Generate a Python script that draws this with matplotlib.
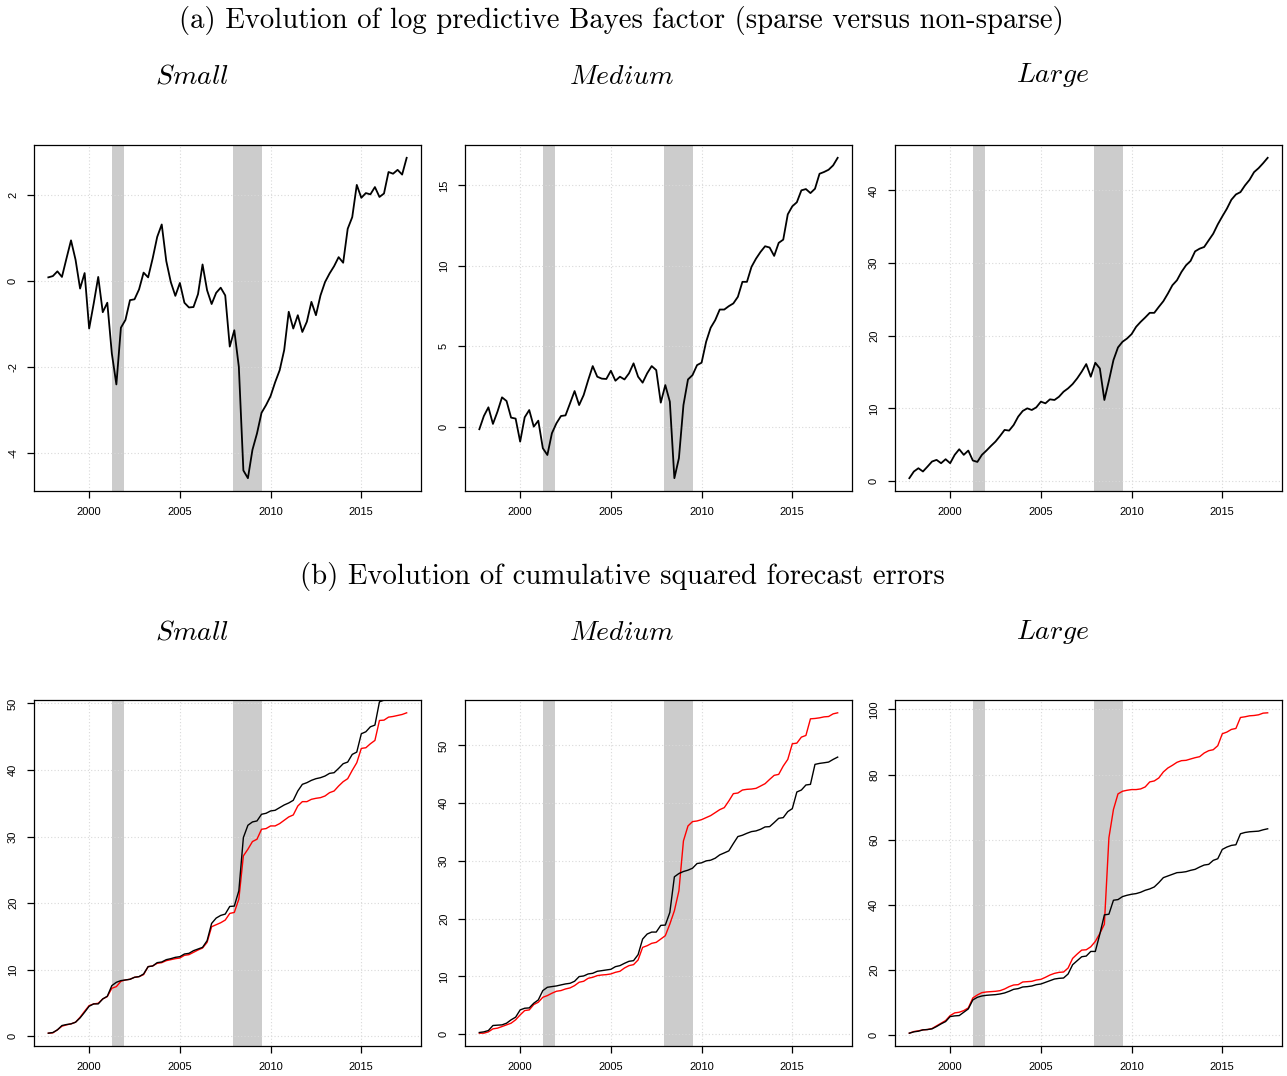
import matplotlib
matplotlib.use("Agg")
import matplotlib.pyplot as plt

plt.rcParams["axes.unicode_minus"] = False
plt.rcParams["mathtext.fontset"] = "cm"
plt.rcParams["font.family"] = ["Liberation Sans", "DejaVu Sans"]

# quarterly evaluation sample, 1997Q4 - 2017Q3
dates = [1997.75 + 0.25 * i for i in range(80)]
recessions = [(2001.25, 2001.917), (2007.917, 2009.5)]

# log predictive Bayes factor, sparse vs non-sparse
lbf_small = [0.09, 0.12, 0.23, 0.10, 0.53, 0.95, 0.50, -0.17, 0.19, -1.10,
             -0.52, 0.10, -0.72, -0.50, -1.68, -2.40, -1.08, -0.90, -0.44, -0.42,
             -0.19, 0.20, 0.09, 0.53, 1.03, 1.32, 0.47, -0.02, -0.34, -0.04,
             -0.50, -0.61, -0.60, -0.30, 0.39, -0.21, -0.53, -0.27, -0.15, -0.33,
             -1.52, -1.14, -1.99, -4.40, -4.58, -3.92, -3.54, -3.06, -2.88, -2.67,
             -2.35, -2.07, -1.60, -0.71, -1.10, -0.79, -1.18, -0.94, -0.48, -0.79,
             -0.33, -0.02, 0.18, 0.35, 0.56, 0.43, 1.22, 1.49, 2.24, 1.94,
             2.05, 2.02, 2.19, 1.96, 2.04, 2.54, 2.50, 2.59, 2.48, 2.87]
lbf_medium = [-0.14, 0.68, 1.22, 0.19, 0.95, 1.84, 1.61, 0.58, 0.52, -0.91,
              0.60, 1.05, 0.02, 0.39, -1.32, -1.74, -0.39, 0.23, 0.68, 0.72,
              1.47, 2.23, 1.36, 1.98, 2.91, 3.78, 3.12, 3.00, 2.98, 3.49,
              2.87, 3.12, 2.95, 3.33, 3.95, 3.12, 2.75, 3.33, 3.78, 3.53,
              1.51, 2.60, 1.57, -3.18, -1.94, 1.36, 2.95, 3.22, 3.84, 3.99,
              5.29, 6.16, 6.63, 7.29, 7.29, 7.50, 7.67, 8.08, 9.01, 9.01,
              9.94, 10.45, 10.87, 11.22, 11.14, 10.62, 11.43, 11.63, 13.20, 13.70,
              13.95, 14.69, 14.77, 14.52, 14.79, 15.72, 15.83, 15.97, 16.24, 16.71]
lbf_large = [0.41, 1.33, 1.78, 1.33, 2.00, 2.70, 2.93, 2.47, 3.02, 2.47,
             3.62, 4.39, 3.62, 4.21, 2.84, 2.65, 3.62, 4.21, 4.85, 5.45,
             6.22, 7.05, 6.96, 7.73, 8.88, 9.66, 10.02, 9.79, 10.16, 10.94,
             10.71, 11.26, 11.17, 11.62, 12.31, 12.77, 13.36, 14.14, 15.06, 16.11,
             14.37, 16.29, 15.51, 11.17, 13.82, 16.66, 18.40, 19.18, 19.63, 20.23,
             21.24, 21.92, 22.52, 23.16, 23.16, 23.98, 24.76, 25.81, 26.96, 27.64,
             28.79, 29.70, 30.30, 31.62, 31.99, 32.22, 33.14, 34.05, 35.33, 36.43,
             37.48, 38.72, 39.45, 39.77, 40.69, 41.46, 42.52, 43.07, 43.75, 44.49]

# cumulative squared forecast errors: sparse (black) and non-sparse (red)
cse_sparse_small = [0.45, 0.55, 0.95, 1.60, 1.75, 1.85, 2.10, 2.75, 3.60, 4.50,
                    4.85, 4.85, 5.60, 6.00, 7.60, 8.10, 8.35, 8.45, 8.55, 8.85,
                    8.95, 9.35, 10.45, 10.55, 11.05, 11.15, 11.50, 11.65, 11.85, 11.95,
                    12.35, 12.45, 12.85, 13.10, 13.35, 14.35, 16.95, 17.75, 18.15, 18.35,
                    19.50, 19.55, 21.85, 29.85, 31.70, 32.20, 32.35, 33.35, 33.50, 33.85,
                    33.95, 34.35, 34.75, 35.05, 35.45, 36.85, 37.85, 38.10, 38.45, 38.70,
                    38.85, 39.10, 39.50, 39.60, 40.25, 40.95, 41.20, 42.35, 42.70, 45.45,
                    45.75, 46.50, 46.75, 50.25, 50.50, 50.70, 50.90, 51.10, 51.30, 51.60]
cse_dense_small = [0.45, 0.50, 0.95, 1.50, 1.70, 1.85, 2.10, 2.85, 3.75, 4.60,
                   4.85, 4.95, 5.60, 5.95, 7.20, 7.45, 8.25, 8.45, 8.55, 8.85,
                   8.95, 9.25, 10.45, 10.55, 10.95, 11.05, 11.35, 11.50, 11.65, 11.75,
                   12.15, 12.25, 12.60, 12.95, 13.25, 14.10, 16.45, 16.75, 17.05, 17.45,
                   18.45, 18.60, 20.60, 27.10, 28.10, 29.25, 29.60, 31.10, 31.20, 31.60,
                   31.60, 31.95, 32.45, 32.95, 33.25, 34.60, 35.25, 35.25, 35.60, 35.75,
                   35.85, 36.10, 36.60, 36.85, 37.60, 38.25, 38.70, 39.95, 41.10, 43.25,
                   43.35, 43.95, 44.45, 47.45, 47.50, 47.95, 48.05, 48.20, 48.35, 48.60]
cse_sparse_medium = [0.29, 0.40, 0.63, 1.50, 1.56, 1.61, 1.90, 2.48, 2.94, 4.20,
                     4.49, 4.55, 5.36, 5.93, 7.55, 8.12, 8.24, 8.35, 8.53, 8.70,
                     8.81, 9.16, 9.97, 10.08, 10.43, 10.54, 10.89, 11.00, 11.12, 11.23,
                     11.69, 11.87, 12.27, 12.62, 12.73, 13.77, 16.47, 17.34, 17.68, 17.68,
                     18.84, 18.89, 21.08, 27.25, 27.82, 28.17, 28.40, 28.74, 29.55, 29.67,
                     30.01, 30.13, 30.47, 31.05, 31.39, 31.74, 33.01, 34.22, 34.45, 34.79,
                     35.08, 35.20, 35.48, 35.89, 35.94, 36.64, 37.38, 37.50, 38.54, 39.06,
                     41.94, 42.28, 43.15, 43.26, 46.72, 46.89, 47.00, 47.12, 47.58, 47.98]
cse_dense_medium = [0.17, 0.17, 0.40, 0.92, 1.04, 1.32, 1.61, 1.90, 2.48, 3.34,
                    4.09, 4.20, 5.13, 5.53, 6.39, 6.68, 7.09, 7.43, 7.55, 7.83,
                    8.01, 8.41, 8.99, 9.16, 9.68, 9.85, 10.14, 10.25, 10.31, 10.43,
                    10.71, 10.89, 11.46, 11.87, 12.04, 12.85, 15.03, 15.32, 15.73, 15.90,
                    16.47, 17.05, 19.07, 21.37, 24.83, 33.47, 36.06, 36.81, 36.92, 37.15,
                    37.50, 37.85, 38.36, 38.88, 39.23, 40.38, 41.65, 41.76, 42.28, 42.40,
                    42.45, 42.57, 42.97, 43.38, 44.12, 44.82, 44.99, 46.43, 47.58, 50.29,
                    50.40, 51.44, 51.73, 54.61, 54.67, 54.78, 54.95, 55.01, 55.47, 55.65]
cse_sparse_large = [0.61, 1.02, 1.22, 1.63, 1.73, 1.94, 2.65, 3.47, 4.18, 5.71,
                    5.92, 6.02, 7.04, 8.06, 10.82, 11.63, 12.04, 12.24, 12.35, 12.45,
                    12.65, 12.96, 13.47, 14.08, 14.29, 14.80, 14.90, 15.10, 15.51, 15.71,
                    16.22, 16.73, 17.24, 17.45, 17.55, 18.78, 21.63, 22.86, 24.08, 24.29,
                    25.71, 25.71, 31.02, 36.94, 37.14, 41.43, 41.63, 42.55, 42.96, 43.27,
                    43.47, 43.88, 44.49, 44.90, 45.51, 46.84, 48.37, 48.88, 49.39, 49.90,
                    50.00, 50.20, 50.61, 50.92, 51.63, 52.24, 52.45, 53.67, 54.18, 57.04,
                    57.76, 58.27, 58.47, 61.84, 62.24, 62.45, 62.55, 62.65, 63.06, 63.37]
cse_dense_large = [0.61, 1.12, 1.33, 1.63, 1.73, 2.04, 2.86, 3.67, 4.49, 6.02,
                   6.84, 7.04, 7.55, 8.37, 11.43, 12.35, 13.06, 13.27, 13.37, 13.47,
                   13.67, 14.18, 14.90, 15.41, 15.51, 16.33, 16.43, 16.53, 16.94, 17.14,
                   17.76, 18.47, 18.98, 19.29, 19.39, 20.61, 23.57, 24.90, 26.12, 26.22,
                   27.14, 28.78, 31.22, 34.08, 60.61, 69.29, 74.08, 74.90, 75.20, 75.41,
                   75.41, 75.61, 76.22, 77.76, 78.06, 78.98, 80.82, 82.04, 82.86, 83.78,
                   84.29, 84.39, 84.80, 85.20, 85.51, 86.63, 87.35, 87.65, 88.88, 92.55,
                   93.06, 93.88, 94.18, 97.55, 97.76, 98.06, 98.16, 98.37, 98.88, 98.98]

sizes = ["Small", "Medium", "Large"]
lbf = [lbf_small, lbf_medium, lbf_large]
cse_sparse = [cse_sparse_small, cse_sparse_medium, cse_sparse_large]
cse_dense = [cse_dense_small, cse_dense_medium, cse_dense_large]
lbf_ticks = [[-4, -2, 0, 2], [0, 5, 10, 15], [0, 10, 20, 30, 40]]
cse_ticks = [[0, 10, 20, 30, 40, 50], [0, 10, 20, 30, 40, 50], [0, 20, 40, 60, 80, 100]]
year_ticks = [2000, 2005, 2010, 2015]

W, H = 1287, 1076
fig = plt.figure(figsize=(W / 100, H / 100), dpi=100)

col_left = [34, 465, 895]
col_width = 387
row_top = [145, 700]
row_height = 346


def r_range(vals):
    # R-style axis range: data range extended by 4% on each side
    lo, hi = min(vals), max(vals)
    pad = 0.04 * (hi - lo)
    return lo - pad, hi + pad


def style_axes(ax, yticks):
    for t0, t1 in recessions:
        ax.axvspan(t0, t1, color="#cccccc", lw=0, zorder=1)
    ax.set_xlim(*r_range(dates))
    ax.set_xticks(year_ticks)
    ax.set_yticks(yticks)
    ax.grid(True, color="#d9d9d9", linestyle=(0, (1, 2)), linewidth=0.8, zorder=2)
    ax.set_axisbelow(False)
    for s in ax.spines.values():
        s.set_linewidth(0.9)
        s.set_zorder(5)
    ax.tick_params(direction="out", length=5, width=0.9, labelsize=8, pad=6.5,
                   top=False, right=False)
    ax.tick_params(axis="y", labelrotation=90)
    plt.setp(ax.get_yticklabels(), va="center")


def add_axes(row, col):
    left = col_left[col] / W
    bottom = 1 - (row_top[row] + row_height) / H
    return fig.add_axes([left, bottom, col_width / W, row_height / H])


for j in range(3):
    ax = add_axes(0, j)
    ax.plot(dates, lbf[j], color="black", lw=1.3, zorder=3)
    ax.set_ylim(*r_range(lbf[j]))
    style_axes(ax, lbf_ticks[j])

    ax = add_axes(1, j)
    ax.plot(dates, cse_dense[j], color="red", lw=1.0, zorder=3)
    ax.plot(dates, cse_sparse[j], color="black", lw=1.0, zorder=3)
    ax.set_ylim(*r_range(cse_dense[j]))
    style_axes(ax, cse_ticks[j])

serif = "cmr10"
fig.text(621 / W, 1 - 28 / H,
         "(a) Evolution of log predictive Bayes factor (sparse versus non-sparse)",
         family=serif, fontsize=20.7, ha="center", va="baseline")
fig.text(622 / W, 1 - 584 / H,
         "(b) Evolution of cumulative squared forecast errors",
         family=serif, fontsize=20.7, ha="center", va="baseline")

centers = [192, 622, 1053]
top_base = [84, 84, 82]
bottom_base = [640, 640, 639]
for j, name in enumerate(sizes):
    fig.text(centers[j] / W, 1 - top_base[j] / H, r"$\mathit{%s}$" % name,
             fontsize=20, ha="center", va="baseline")
    fig.text(centers[j] / W, 1 - bottom_base[j] / H, r"$\mathit{%s}$" % name,
             fontsize=20, ha="center", va="baseline")

fig.savefig("out.png", dpi=100)
